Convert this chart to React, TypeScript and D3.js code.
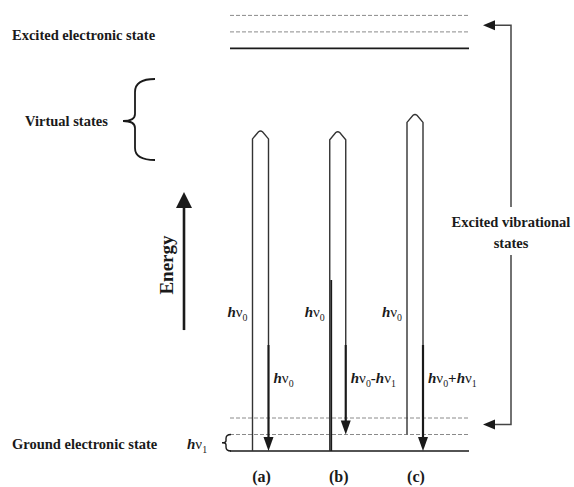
import React from "react";
import * as d3 from "d3";

// energy levels, in units of one vibrational quantum (hv1)
const groundLevels = [0, 1, 2];
const excitedLevels = [24.4, 25.4, 26.4];

// the three scattering processes
const processes = ["(a)", "(b)", "(c)"];
const startLevels = [0, 0, 1];
const virtualLevels = [19.4, 19.35, 20.4];
const endLevels = [0, 1, 0];
const incidentLabels = ["hν0", "hν0", "hν0"];
const scatteredLabels = ["hν0", "hν0-hν1", "hν0+hν1"];

const energyArrow = [7.33, 15.7];
const vibrationalArrow = [1.6, 25.8];

const W = 574;
const H = 487;
const FONT = "'Liberation Serif', 'Times New Roman', Times, serif";
const INK = "#1a1a1a";

// renders strings like "hν0-hν1" with italic h and subscripts
const Label = ({ text, x, y, anchor = "start", size = 15 }) => {
  const parts = text.split(/(hν[0-9])/).filter((p) => p !== "");
  const nodes = [];
  let shift = 0;
  parts.forEach((p, i) => {
    if (/^hν[0-9]$/.test(p)) {
      nodes.push(
        <tspan key={i + "h"} dy={-shift} fontStyle="italic" fontWeight="bold">h</tspan>,
        <tspan key={i + "v"} fontWeight="normal">ν</tspan>,
        <tspan key={i + "s"} fontSize={size * 0.66} dy={4} fontWeight="normal">{p[2]}</tspan>
      );
      shift = 4;
    } else {
      nodes.push(<tspan key={i} dy={-shift} fontWeight="bold">{p}</tspan>);
      shift = 0;
    }
  });
  return (
    <text x={x} y={y} textAnchor={anchor} fontFamily={FONT} fontSize={size} fill={INK}>
      {nodes}
    </text>
  );
};

export default function App() {
  const y = d3.scaleLinear().domain([0, 26.4]).range([451, 15.4]);
  const x = d3.scalePoint().domain(processes).range([252.5, 407]);
  const arrowW = 16;
  const levelX = [230, 469];

  const levelLine = (lv, i) => (
    <line
      key={lv}
      x1={levelX[0]}
      x2={levelX[1]}
      y1={y(lv)}
      y2={y(lv)}
      stroke={i === 0 ? INK : "#8a8a8a"}
      strokeWidth={i === 0 ? 1.6 : 1}
      strokeDasharray={i === 0 ? null : "4,2"}
    />
  );

  const vx = 511;
  const vTop = y(vibrationalArrow[1]);
  const vBot = y(vibrationalArrow[0]);

  return (
    <svg width={W} height={H} style={{ position: "absolute", left: 0, top: 0, background: "#fff" }}>
      {groundLevels.map(levelLine)}
      {excitedLevels.map(levelLine)}

      {/* left labels */}
      <text x={12} y={40} fontFamily={FONT} fontWeight="bold" fontSize={14.5} fill={INK}>
        Excited electronic state
      </text>
      <text x={25} y={126} fontFamily={FONT} fontWeight="bold" fontSize={14.5} fill={INK}>
        Virtual states
      </text>
      <path
        d="M155,79 Q135,79 135,92 L135,114 Q135,121 123,121 Q135,121 135,128 L135,148 Q135,160 155,160"
        fill="none"
        stroke={INK}
        strokeWidth={1.8}
      />
      <text x={12} y={449} fontFamily={FONT} fontWeight="bold" fontSize={14.5} fill={INK}>
        Ground electronic state
      </text>
      <Label text="hν1" x={187} y={449} size={15} />
      <path
        d={`M231,${y(1)} Q226,${y(1)} 226,${y(1) + 4} L226,${y(0.5) - 2} Q226,${y(0.5)} 222,${y(0.5)} Q226,${y(0.5)} 226,${y(0.5) + 2} L226,${y(0) - 4} Q226,${y(0)} 231,${y(0)}`}
        fill="none"
        stroke={INK}
        strokeWidth={1.4}
      />

      {/* energy axis */}
      <line x1={184} x2={184} y1={y(energyArrow[0])} y2={y(energyArrow[1]) + 14} stroke={INK} strokeWidth={2.6} />
      <path
        d={`M184,${y(energyArrow[1])} L176,${y(energyArrow[1]) + 16} L192,${y(energyArrow[1]) + 16} Z`}
        fill={INK}
      />
      <text
        transform={`translate(173,${(y(energyArrow[0]) + y(energyArrow[1])) / 2 + 4}) rotate(-90)`}
        textAnchor="middle"
        fontFamily={FONT}
        fontWeight="bold"
        fontSize={19}
        fill={INK}
      >
        Energy
      </text>

      {/* transitions */}
      {processes.map((p, i) => {
        const xl = x(p);
        const xr = xl + arrowW;
        const cx = xl + arrowW / 2;
        const top = y(virtualLevels[i]);
        const yStart = y(startLevels[i]);
        const yEnd = y(endLevels[i]);
        const thickFrom = 345;
        return (
          <g key={p}>
            <path
              d={`M${xl},${yStart} L${xl},${top + 8} L${cx - 2},${top + 0.8} Q${cx},${top - 0.6} ${cx + 2},${top + 0.8} L${xr},${top + 8} L${xr},${thickFrom}`}
              fill="none"
              stroke="#333"
              strokeWidth={1.4}
            />
            {i === 1 && (
              <line x1={xl + 1.5} x2={xl + 1.5} y1={yStart} y2={280} stroke={INK} strokeWidth={1.8} />
            )}
            <line x1={xr} x2={xr} y1={thickFrom} y2={yEnd - 12} stroke={INK} strokeWidth={2.2} />
            <path d={`M${xr},${yEnd} L${xr - 5},${yEnd - 14} L${xr + 5},${yEnd - 14} Z`} fill={INK} />
            <Label text={incidentLabels[i]} x={xl - 5} y={317} anchor="end" />
            <Label text={scatteredLabels[i]} x={xr + 5} y={383} />
            <text
              x={cx + 1}
              y={482}
              textAnchor="middle"
              fontFamily={FONT}
              fontWeight="bold"
              fontSize={16}
              fill={INK}
            >
              {p}
            </text>
          </g>
        );
      })}

      {/* excited vibrational states bracket arrow */}
      <path d={`M${vx - 18},${vTop} L${vx},${vTop} L${vx},207`} fill="none" stroke="#444" strokeWidth={1.5} />
      <path d={`M${vx},255 L${vx},${vBot} L${vx - 18},${vBot}`} fill="none" stroke="#444" strokeWidth={1.5} />
      <path d={`M${vx - 28},${vTop} L${vx - 16},${vTop - 5} L${vx - 16},${vTop + 5} Z`} fill={INK} />
      <path d={`M${vx - 28},${vBot} L${vx - 16},${vBot - 5} L${vx - 16},${vBot + 5} Z`} fill={INK} />
      <text x={vx} y={227} textAnchor="middle" fontFamily={FONT} fontWeight="bold" fontSize={14.5} fill={INK}>
        Excited vibrational
      </text>
      <text x={vx} y={248} textAnchor="middle" fontFamily={FONT} fontWeight="bold" fontSize={14.5} fill={INK}>
        states
      </text>
    </svg>
  );
}
